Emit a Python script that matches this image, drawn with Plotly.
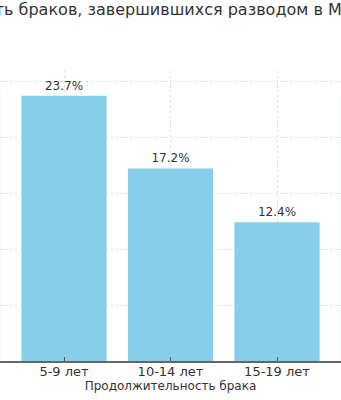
import plotly.graph_objects as go

categories = ["0-4 лет", "5-9 лет", "10-14 лет", "15-19 лет", "20+ лет"]
values = [24.2, 23.7, 17.2, 12.4, 23.6]
title_text = "Вероятность браков, завершившихся разводом в Москве по продолжительности брака"
x_title = "Продолжительность брака"

FONT = "DejaVu Sans"
TXT = "#333333"

fig = go.Figure(go.Bar(
    x=list(range(len(categories))), y=values,
    width=0.8,
    marker=dict(color="#87CEEB", line=dict(width=0)),
    texttemplate="%{y:.1f}%", textposition="outside",
    textfont=dict(family=FONT, size=12, color=TXT),
    cliponaxis=False,
))

fig.update_layout(
    width=341, height=400,
    margin=dict(l=0, r=0, t=70, b=39),
    plot_bgcolor="white", paper_bgcolor="white",
    showlegend=False,
    font=dict(family=FONT, color=TXT),
    annotations=[dict(
        text=title_text, xref="paper", yref="paper", x=0, y=1.208,
        xanchor="left", yanchor="middle", xshift=-96, showarrow=False,
        font=dict(family=FONT, size=16, color=TXT),
    )],
)
fig.update_xaxes(
    range=[0.399, 3.601],
    tickmode="array", tickvals=list(range(len(categories))), ticktext=categories,
    tickfont=dict(family=FONT, size=13, color=TXT),
    ticklabelstandoff=-2,
    showgrid=True, gridcolor="#e3e3e3", griddash="3px,2px", gridwidth=1,
    showline=True, linecolor="#666666", linewidth=1.5,
    ticks="inside", ticklen=4, tickcolor="#555555",
    title=dict(text=x_title, font=dict(family=FONT, size=12, color=TXT), standoff=1),
    zeroline=False,
)
fig.update_yaxes(
    range=[0, 26], tickvals=[0, 5, 10, 15, 20, 25], showticklabels=False,
    showgrid=True, gridcolor="#e3e3e3", griddash="3px,2px", gridwidth=1,
    zeroline=False, showline=False, ticks="",
)

fig.write_html("out.html")
